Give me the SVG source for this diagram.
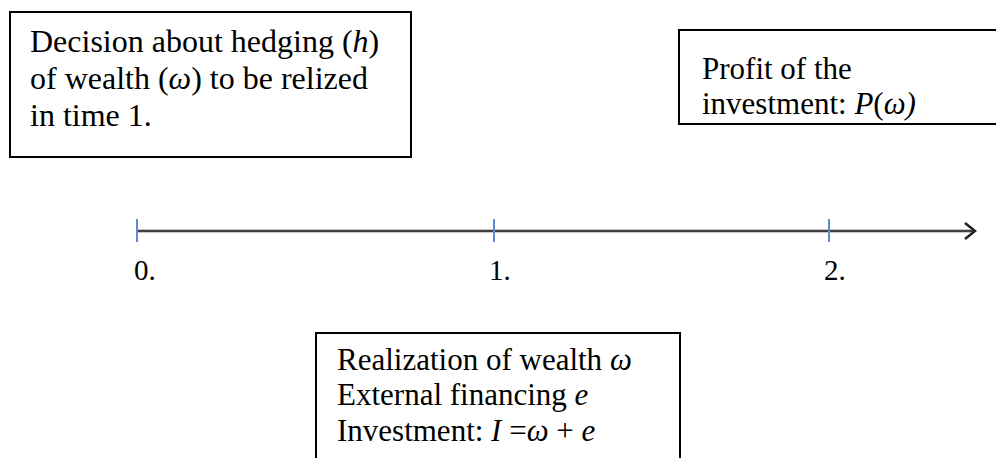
<svg xmlns="http://www.w3.org/2000/svg" width="996" height="458" viewBox="0 0 996 458">
<style>
.box{fill:#fff;stroke:#000;stroke-width:2}
.t{font-family:"Liberation Serif","Times New Roman",serif;font-size:31px;fill:#000}
.t1{font-size:32px}
.i{font-style:italic}
.tick{stroke:#5b8bd0;stroke-width:2}
.lbl{font-family:"Liberation Serif","Times New Roman",serif;font-size:29px;fill:#000}
</style>
<rect width="996" height="458" fill="#fff"/>
<g id="node-decision">
<rect class="box" x="10" y="12" width="401" height="145"/>
<text class="t t1" x="30" y="52">Decision about hedging (<tspan class="i">h</tspan>)</text>
<text class="t t1" x="30" y="89">of wealth (<tspan class="i">ω</tspan>) to be relized</text>
<text class="t t1" x="30" y="126">in time 1.</text>
</g>
<g id="node-profit">
<rect class="box" x="679" y="30" width="330" height="94"/>
<text class="t" x="702" y="79">Profit of the</text>
<text class="t" x="702" y="114">investment: <tspan class="i">P</tspan>(<tspan class="i">ω)</tspan></text>
</g>
<g id="node-realization">
<rect class="box" x="316" y="333" width="364" height="140"/>
<text class="t" x="337" y="370">Realization of wealth <tspan class="i">ω</tspan></text>
<text class="t" x="337" y="405">External financing <tspan class="i">e</tspan></text>
<text class="t" x="337" y="441">Investment: <tspan class="i">I</tspan> =<tspan class="i">ω</tspan> + <tspan class="i">e</tspan></text>
</g>
<g id="connectors">
<line x1="137" y1="231" x2="974" y2="231" stroke="#c8c8c8" stroke-width="4"/>
<line x1="137" y1="231" x2="974" y2="231" stroke="#404040" stroke-width="2"/>
<polyline points="965,223 975,231 965,239" fill="none" stroke="#222" stroke-width="2.5"/>
<line class="tick" x1="137" y1="219" x2="137" y2="242"/>
<line class="tick" x1="494" y1="219" x2="494" y2="242"/>
<line class="tick" x1="829" y1="219" x2="829" y2="242"/>
</g>
<g id="labels">
<text class="lbl" x="134" y="280">0.</text>
<text class="lbl" x="489" y="280">1.</text>
<text class="lbl" x="824" y="280">2.</text>
</g>
</svg>
